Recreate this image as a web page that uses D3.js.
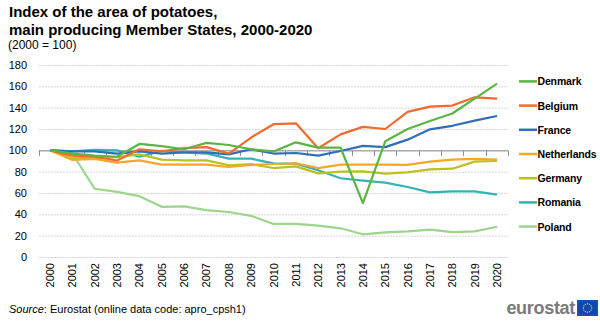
<!DOCTYPE html>
<html><head><meta charset="utf-8">
<script src="https://cdn.jsdelivr.net/npm/d3@7"></script>
<style>
body{margin:0;background:#fff;}
svg{display:block;font-family:"Liberation Sans",Arial,sans-serif;}
</style></head>
<body>
<svg id="chart" width="600" height="323"></svg>
<script>
const years = ["2000","2001","2002","2003","2004","2005","2006","2007","2008","2009","2010","2011","2012","2013","2014","2015","2016","2017","2018","2019","2020"];
const seriesNames = ["Denmark","Belgium","France","Netherlands","Germany","Romania","Poland"];
const seriesColors = ["#5bb543","#f26a2c","#2f6fba","#f8a62a","#b9c21f","#34b2b4","#9bd68c"];
const denmark     = [100,97,95,94,106,104,101,107,105,101,99,107.5,102.5,102.5,50.5,108.5,120,127.5,134.5,148.5,162.5];
const belgium     = [100,95,94,90.5,101,99,102,103,97,112,124.5,125.3,102,115,122,120,136,141,142,149.7,148.4];
const france      = [100,99,99,97,99,97,98,98,96.2,101,97,97.5,95,99.4,104.2,103,110,119.7,123,127.8,132.2];
const netherlands = [100,91,92,88.4,90.6,86.6,86.6,86.6,84.4,86.3,87.2,87.8,83.4,86.6,86.6,86.6,86.3,89.4,91.3,91.9,91.3];
const germany     = [100,92.5,93,93.5,96.2,91.3,90.6,90.6,86,87,83.4,85,78.4,80,80.3,78.1,79.4,82.2,82.8,89.4,90];
const romania     = [100,99,100.5,100,94,99.5,98,97,92.2,92.2,87.8,87.5,81.3,73.8,71.6,69.7,65.6,60.6,61.6,61.6,58.4];
const poland      = [100,97,64,61,57,47,47.5,44,42.2,38.6,31,31,29.4,26.9,21.3,23.1,24,25.6,23.4,24,28.4];
const yTicks = [0,20,40,60,80,100,120,140,160,180];

const seriesValues = [denmark,belgium,france,netherlands,germany,romania,poland];
const svg = d3.select("#chart");

// Titles
const t = svg.append("g");
t.append("text").attr("x",9).attr("y",17).attr("font-size",15).attr("font-weight","bold").text("Index of the area of potatoes,");
t.append("text").attr("x",9).attr("y",35).attr("font-size",15).attr("font-weight","bold").text("main producing Member States, 2000-2020");
t.append("text").attr("x",8).attr("y",49).attr("font-size",12).text("(2000 = 100)");

const x = d3.scaleBand().domain(years).range([38.8,508.2]).paddingInner(0).paddingOuter(0);
const y = d3.scaleLinear().domain([0,180]).range([257,65]);

// gridlines
svg.append("g").selectAll("line").data(yTicks).join("line")
  .attr("x1",38.8).attr("x2",508.2)
  .attr("y1",d=>y(d)+0.5).attr("y2",d=>y(d)+0.5)
  .attr("stroke","#d4d4d4").attr("stroke-width",1).attr("stroke-dasharray","2,1");

// y axis
const yAxis = svg.append("g").attr("transform","translate(30,0)")
  .call(d3.axisLeft(y).tickValues(yTicks).tickSize(0).tickPadding(3));
yAxis.select(".domain").remove();
yAxis.selectAll("text").attr("font-size",11).attr("fill","#000").attr("font-family","Liberation Sans, Arial, sans-serif");

// x axis baseline at 100 with ticks
const base = y(100)+0.5;
const xb = svg.append("g");
xb.append("line").attr("x1",38.8).attr("x2",508.2).attr("y1",base).attr("y2",base).attr("stroke","#8c8c8c").attr("stroke-width",1);
const bounds = years.map(d=>x(d)).concat([x(years[years.length-1])+x.bandwidth()]);
xb.selectAll("line.tk").data(bounds).join("line").attr("class","tk")
  .attr("x1",d=>Math.round(d)+0.5).attr("x2",d=>Math.round(d)+0.5)
  .attr("y1",base).attr("y2",base+5).attr("stroke","#8c8c8c");

// x labels rotated
svg.append("g").selectAll("text").data(years).join("text")
  .attr("transform",d=>`translate(${x(d)+x.bandwidth()/2+4},263) rotate(-90)`)
  .attr("text-anchor","end").attr("font-size",11).attr("fill","#000").text(d=>d);

// lines
const line = d3.line().x((d,i)=>x(years[i])+x.bandwidth()/2).y(d=>y(d));
const order = [6,5,4,3,2,1,0];
svg.append("g").selectAll("path").data(order).join("path")
  .attr("d",i=>line(seriesValues[i])).attr("fill","none")
  .attr("stroke",i=>seriesColors[i]).attr("stroke-width",2.2).attr("stroke-linejoin","round");

// legend
const lg = svg.append("g").selectAll("g").data(seriesNames).join("g")
  .attr("transform",(d,i)=>`translate(519,${81.4+i*24.2})`);
lg.append("line").attr("x1",0).attr("x2",18).attr("y1",0).attr("y2",0)
  .attr("stroke",(d,i)=>seriesColors[i]).attr("stroke-width",2.5);
lg.append("text").attr("x",18.5).attr("y",4).attr("font-size",10.5).attr("letter-spacing","-0.15").attr("font-weight","bold").text(d=>d);

// source
const src = svg.append("text").attr("x",9).attr("y",313).attr("font-size",11);
src.append("tspan").attr("font-style","italic").text("Source");
src.append("tspan").text(": Eurostat (online data code: apro_cpsh1)");

// logo
svg.append("text").attr("x",575).attr("y",314).attr("text-anchor","end").attr("font-size",18).attr("font-weight","bold").attr("fill","#7a7a7a").attr("letter-spacing","-0.3").text("eurostat");
const fl = svg.append("g").attr("transform","translate(577,300)");
fl.append("rect").attr("width",21).attr("height",16).attr("fill","#1a4eb2");
fl.append("rect").attr("x",1.5).attr("y",1.5).attr("width",18).attr("height",13).attr("fill","#0e47b0");
d3.range(12).forEach(k=>{
  const a = k/12*2*Math.PI;
  fl.append("circle").attr("cx",10.5+4.2*Math.cos(a)).attr("cy",8+4.2*Math.sin(a)).attr("r",0.7).attr("fill","#ffd400");
});
</script>
</body></html>
